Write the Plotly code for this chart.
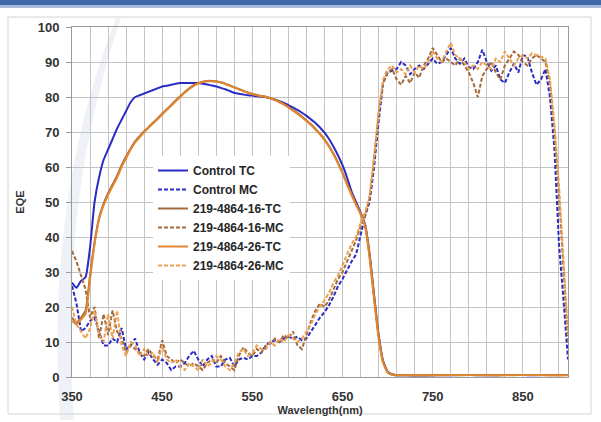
import plotly.graph_objects as go

# ---------------- data ----------------
wl_tc = list(range(350, 715, 5)) + [720, 740, 760, 780, 800, 820, 840, 860, 880, 900]
wl_mc = list(range(350, 905, 5))

control_tc = [27, 25.5, 27.5, 28.5, 37, 50, 57, 62, 65, 68,
              71, 73.5, 76, 78.5, 80, 80.5, 81, 81.5, 82, 82.5,
              83, 83.2, 83.5, 83.8, 84, 84, 84, 84, 84, 83.8,
              83.6, 83.3, 83, 82.6, 82.2, 81.7, 81.2, 80.9, 80.7, 80.5,
              80.4, 80.2, 80.1, 79.9, 79.6, 79.2, 78.8, 78.3, 77.7, 77,
              76.3, 75.5, 74.6, 73.6, 72.6, 71.3, 69.8, 68, 65.8, 63.3,
              60.5, 57, 53, 50, 47, 43.5, 35, 23, 12, 4.5,
              1.5, 0.7, 0.5,
              0.5, 0.4, 0.5, 0.6, 0.5, 0.5, 0.6, 0.5, 0.6, 0.6]

tc_16 = [17, 15.5, 17, 19, 29, 38.5, 45.5, 49.5, 52.5, 55,
         57.5, 60.5, 63, 65.3, 67.3, 68.8, 70.2, 71.4, 72.7, 73.9,
         75.2, 76.5, 77.7, 79, 80.2, 81.4, 82.5, 83.4, 84, 84.4,
         84.6, 84.6, 84.5, 84.2, 83.8, 83.3, 82.8, 82.3, 81.8, 81.3,
         80.9, 80.6, 80.3, 80.1, 79.7, 79.3, 78.7, 78, 77.2, 76.3,
         75.4, 74.4, 73.3, 72.2, 70.9, 69.5, 67.9, 66, 63.8, 61.2,
         58.4, 55.3, 52.3, 49.5, 46.8, 43.5, 35, 23.5, 12, 4.5,
         1.5, 0.7, 0.5,
         0.5, 0.5, 0.6, 0.5, 0.6, 0.5, 0.6, 0.6, 0.5, 0.6]

tc_26 = [16, 15, 16.5, 18, 28, 38, 45, 49, 52, 54.5,
         57, 60, 62.5, 65, 67, 68.5, 70, 71.2, 72.5, 73.7,
         75, 76.3, 77.5, 78.8, 80, 81.2, 82.3, 83.2, 83.9, 84.3,
         84.5, 84.5, 84.4, 84.1, 83.7, 83.2, 82.7, 82.2, 81.7, 81.2,
         80.8, 80.5, 80.2, 80, 79.6, 79.1, 78.5, 77.8, 77, 76.1,
         75.2, 74.2, 73.1, 72, 70.7, 69.3, 67.7, 65.8, 63.6, 61,
         58.2, 55, 52, 49.2, 46.5, 43, 34, 22, 11, 4,
         1.3, 0.6, 0.5,
         0.5, 0.5, 0.5, 0.6, 0.5, 0.5, 0.5, 0.6, 0.5, 0.5]

control_mc = [26, 21, 13, 14, 16, 17, 13, 9, 9, 11,
              10, 14, 8, 9, 11, 7, 5, 7, 5, 3.5,
              5, 4, 2, 3, 3, 4, 6, 7.5, 5, 3,
              5, 6, 3, 3, 5, 5.5, 3, 5, 5.5, 5,
              6, 6, 7, 9, 10, 10.5, 10, 11, 11.5, 11,
              11.5, 10.5, 11, 13, 15, 17, 18.5, 20.5, 23, 26,
              28, 30.5, 33, 35, 41, 46, 50, 60, 73, 84,
              87, 87.5, 88, 90, 89, 86.5, 88, 89, 88, 89.5,
              91, 89.5, 90, 92, 94, 91, 89.5, 91, 88.5, 88,
              90, 93.5, 90, 87.5, 89, 85, 84, 87, 89.5, 87,
              92, 91.5, 87, 83.5, 85, 88, 80, 65, 38, 22,
              5]

mc_16 = [36, 33, 29, 25, 17, 20, 11, 18, 12, 19,
         13, 11, 7, 9, 8, 7, 6, 8, 6, 5,
         10.5, 6, 5, 4, 5, 4, 3, 4, 3, 2,
         4, 5, 4, 6, 4, 3, 2, 6, 8.5, 7,
         6, 8, 7, 9, 9.5, 11, 10, 12, 11, 13,
         9, 8, 12, 16, 19, 21, 20, 22, 25, 28,
         30, 33, 36, 39, 43, 46, 51, 62, 75, 84,
         87, 88, 85, 83.5, 86, 84, 87, 85.5, 89, 91,
         94, 92, 90, 91, 90, 89, 91, 89, 87, 84,
         80, 86, 88, 90, 87, 85, 89, 91, 93, 92,
         90, 89, 91, 92, 91, 90, 84, 70, 52, 32,
         10]

mc_26 = [20, 15, 13, 11, 14, 19, 12, 10, 18, 11,
         19, 9, 6, 10, 9, 6, 8, 6, 7, 4,
         9, 5, 4, 5, 3, 2, 4, 3, 2, 5,
         3, 4, 6, 5, 3, 2, 4, 7, 8, 6,
         7, 9, 8, 8, 10, 9, 11, 10, 12, 11,
         10, 11, 13, 15, 18, 20, 22, 24, 27, 29,
         32, 35, 38, 40, 44, 47, 52, 63, 76, 85,
         88, 89, 87, 88, 86.5, 89, 87, 89, 88, 90,
         93, 91, 90, 93, 95.5, 92, 91, 90, 88, 89,
         88, 90, 89, 88, 91, 90, 93, 91, 89, 91,
         92, 91, 92.5, 92, 91.5, 91, 85, 72, 55, 35,
         12]

x_ticks = [350, 450, 550, 650, 750, 850]
y_ticks = [0, 10, 20, 30, 40, 50, 60, 70, 80, 90, 100]

# ---------------- style ----------------
BLUE = "#2b2bc6"
BROWN = "#a36a3c"
ORANGE = "#e2862f"
ORANGE_L = "#eba052"
DASH = "4px,2px"

series = [
    ("Control TC", wl_tc, control_tc, BLUE, "solid"),
    ("Control MC", wl_mc, control_mc, BLUE, DASH),
    ("219-4864-16-TC", wl_tc, tc_16, BROWN, "solid"),
    ("219-4864-16-MC", wl_mc, mc_16, BROWN, DASH),
    ("219-4864-26-TC", wl_tc, tc_26, ORANGE, "solid"),
    ("219-4864-26-MC", wl_mc, mc_26, ORANGE_L, DASH),
]

fig = go.Figure()
for name, xs, ys, col, dash in series:
    fig.add_trace(go.Scatter(
        x=xs, y=ys, name=name, mode="lines",
        line=dict(color=col, width=2, dash=dash,
                  shape="spline" if dash == "solid" else "linear", smoothing=0.5),
    ))

W, H = 601, 422
L, R, T, B = 72, 33, 27, 45
PW, PH = W - L - R, H - T - B


def px(xp):
    return (xp - L) / PW


def py(yp):
    return (H - B - yp) / PH


shapes = [
    # top blue band
    dict(type="rect", xref="paper", yref="paper", x0=px(0), x1=px(W), y0=py(0), y1=py(5),
         fillcolor="#3f68a8", line_width=0, layer="below"),
    dict(type="rect", xref="paper", yref="paper", x0=px(0), x1=px(W), y0=py(5), y1=py(8),
         fillcolor="#a7bcd8", line_width=0, layer="below"),
    # swoosh
    dict(type="path", xref="paper", yref="paper", layer="below",
         path=(f"M {px(116)},{py(18)} Q {px(45)},{py(200)} {px(60)},{py(420)} "
               f"L {px(74)},{py(420)} Q {px(58)},{py(200)} {px(121)},{py(18)} Z"),
         fillcolor="#eef1f5", line_width=0),
    # outer chart frame
    dict(type="rect", xref="paper", yref="paper", x0=px(8), x1=px(591), y0=py(17), y1=py(414),
         fillcolor="rgba(0,0,0,0)", line=dict(color="#d4d4d4", width=1), layer="below"),
]

fig.update_layout(
    width=W, height=H,
    margin=dict(l=L, r=R, t=T, b=B, autoexpand=False),
    paper_bgcolor="white", plot_bgcolor="rgba(0,0,0,0)",
    shapes=shapes,
    showlegend=True,
    legend=dict(x=px(153), y=py(156), xanchor="left", yanchor="top",
                bgcolor="white", borderwidth=0,
                font=dict(family="Liberation Sans", size=12, color="#262626", weight="bold"),
                tracegroupgap=0, itemwidth=30),
    font=dict(family="Liberation Sans", color="#333333"),
)

fig.update_xaxes(
    automargin=False,
    range=[350, 900], tickvals=x_ticks, ticktext=[str(v) for v in x_ticks],
    showgrid=True, gridcolor="#c4c4c4", gridwidth=1,
    minor=dict(tick0=350, dtick=20, showgrid=True, gridcolor="#c4c4c4", gridwidth=1),
    showline=True, linecolor="#9a9a9a", linewidth=1, mirror=True,
    ticks="", ticklabelstandoff=7, zeroline=False,
    tickfont=dict(family="Liberation Sans", size=13, color="#333333", weight="bold"),
    title=dict(text="Wavelength(nm)", standoff=2,
               font=dict(family="Liberation Sans", size=11, color="#333333", weight="bold")),
)
fig.update_yaxes(
    automargin=False,
    range=[0, 100], tickvals=y_ticks,
    showgrid=True, gridcolor="#c4c4c4", gridwidth=1,
    showline=True, linecolor="#9a9a9a", linewidth=1, mirror=True,
    ticks="outside", ticklen=5, tickcolor="#9a9a9a", ticklabelstandoff=4, zeroline=False,
    tickfont=dict(family="Liberation Sans", size=13, color="#333333", weight="bold"),
    title=dict(text="EQE", standoff=10,
               font=dict(family="Liberation Sans", size=11, color="#333333", weight="bold")),
)

# remove the page's default 8px body margin so the 601x422 figure fills the window
fig.write_html("out.html", config={"displayModeBar": False},
               post_script="document.body.style.margin='0';")
